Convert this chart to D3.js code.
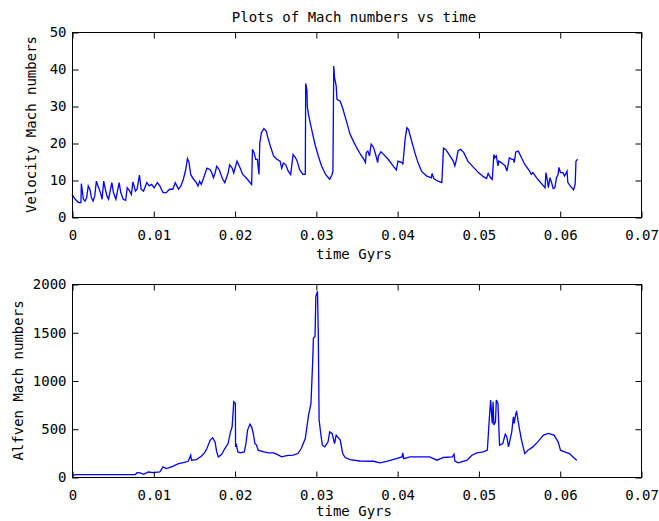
<!DOCTYPE html>
<html>
<head>
<meta charset="utf-8">
<script src="https://cdn.jsdelivr.net/npm/d3@7"></script>
<style>
  body { margin: 0; background: #fff; }
  svg { display: block; }
  text { font-family: "DejaVu Sans Mono", "Liberation Mono", monospace; font-size: 14px; fill: #000; }
</style>
</head>
<body>
<svg id="chart" width="659" height="521"></svg>
<script>
const titleText = "Plots of Mach numbers vs time";
const xLabel = "time Gyrs";
const topYLabel = "Velocity Mach numbers";
const botYLabel = "Alfven Mach numbers";
const xTicks = [0, 0.01, 0.02, 0.03, 0.04, 0.05, 0.06, 0.07];
const topYTicks = [0, 10, 20, 30, 40, 50];
const botYTicks = [0, 500, 1000, 1500, 2000];

// Velocity Mach number: [time Gyrs, value]
const velocityMach = [
[0.0000,6.1],[0.0004,4.8],[0.0008,3.9],[0.0011,3.9],[0.00115,9.0],[0.0014,4.8],[0.0016,4.3],[0.0018,5.2],
[0.0020,8.4],[0.0022,7.5],[0.0024,5.2],[0.0026,4.3],[0.0028,5.7],[0.0030,9.7],[0.0032,8.4],[0.0035,6.6],
[0.0037,4.8],[0.0039,9.7],[0.0041,7.5],[0.0043,5.7],[0.0045,4.8],[0.0049,9.3],[0.0051,6.6],[0.0054,4.8],
[0.0058,9.3],[0.0060,6.6],[0.0063,4.8],[0.0066,4.5],[0.0068,7.9],[0.0071,7.0],[0.0073,6.1],[0.0075,9.5],
[0.0078,7.0],[0.0080,7.5],[0.0083,11.3],[0.0085,7.5],[0.0088,7.0],[0.0092,9.3],[0.0095,8.4],[0.0098,8.8],
[0.0101,7.9],[0.0105,9.3],[0.0108,8.4],[0.0112,6.6],[0.0116,6.6],[0.0120,7.5],[0.0124,7.5],[0.0127,9.3],
[0.0131,7.5],[0.0134,8.4],[0.0137,10.2],[0.0140,12.9],[0.0142,15.8],[0.0144,14.7],[0.0146,11.5],[0.0149,10.4],
[0.0153,9.3],[0.0155,8.4],[0.0157,9.7],[0.0159,8.8],[0.0162,10.6],[0.0166,13.2],[0.0170,12.8],[0.0172,11.9],
[0.0174,10.6],[0.0176,11.9],[0.0178,13.7],[0.0181,12.8],[0.0185,10.4],[0.0188,9.3],[0.0192,11.9],[0.0194,14.1],
[0.0197,13.2],[0.0199,11.9],[0.0203,15.1],[0.0207,13.2],[0.0210,11.5],[0.0215,10.4],[0.0221,8.8],[0.0222,18.3],
[0.0224,17.4],[0.0226,15.6],[0.0228,15.6],[0.0230,11.5],[0.0231,20.0],[0.0233,22.8],[0.0236,23.9],[0.0239,23.2],
[0.0241,21.4],[0.0244,19.2],[0.0248,16.5],[0.0252,15.6],[0.0256,15.1],[0.0258,13.2],[0.0260,14.6],[0.0263,14.1],
[0.0266,12.4],[0.0269,11.5],[0.0272,16.9],[0.0275,16.0],[0.0277,15.1],[0.0280,12.8],[0.0284,11.5],[0.0287,11.5],
[0.02875,36.1],[0.0289,34.3],[0.02895,29.8],[0.0291,27.6],[0.0295,23.5],[0.0299,19.6],[0.0303,16.5],[0.0307,13.8],
[0.0312,11.5],[0.0317,10.2],[0.0320,11.5],[0.0321,12.4],[0.0322,40.8],[0.0323,37.7],[0.0325,35.4],[0.0326,31.8],
[0.0330,31.3],[0.0333,29.4],[0.0337,26.4],[0.0342,22.4],[0.0347,20.1],[0.0350,18.8],[0.0355,16.9],[0.0359,15.6],
[0.0361,14.7],[0.0362,17.4],[0.0364,17.8],[0.0366,16.5],[0.0368,19.7],[0.0371,18.8],[0.0374,16.5],[0.0376,14.7],
[0.0377,16.5],[0.0380,17.6],[0.0383,17.0],[0.0389,15.6],[0.0395,13.8],[0.0399,12.7],[0.0401,15.1],[0.0406,14.7],
[0.0407,14.2],[0.0410,21.4],[0.0412,24.1],[0.0414,23.6],[0.0418,20.4],[0.0422,17.2],[0.0426,14.5],[0.0430,12.4],
[0.0436,11.1],[0.0442,10.6],[0.0443,11.8],[0.0445,10.4],[0.0451,9.6],[0.0455,9.3],[0.0457,18.6],[0.0460,18.2],
[0.0465,16.5],[0.0469,15.1],[0.0471,13.8],[0.0473,15.6],[0.0475,17.9],[0.0478,18.3],[0.0482,17.4],[0.0487,15.1],
[0.0494,13.4],[0.0500,12.0],[0.0506,10.9],[0.0510,10.4],[0.0512,11.8],[0.0515,10.6],[0.0517,10.2],[0.0519,16.9],
[0.0520,16.0],[0.0522,16.5],[0.0524,13.8],[0.0525,15.1],[0.0528,14.7],[0.0533,13.8],[0.0535,12.4],[0.0537,14.7],
[0.0538,16.0],[0.0541,15.6],[0.0543,15.6],[0.0544,14.7],[0.0546,17.6],[0.0549,17.8],[0.0552,16.5],[0.0557,14.2],
[0.0563,12.4],[0.0565,11.5],[0.0567,12.0],[0.0573,10.2],[0.0580,8.4],[0.0582,7.9],[0.0583,12.0],[0.0585,9.7],
[0.0586,7.9],[0.0588,10.6],[0.0590,9.3],[0.0592,7.7],[0.0594,7.9],[0.0596,10.6],[0.0598,11.5],[0.0599,13.4],
[0.0601,12.0],[0.0604,12.0],[0.0606,11.1],[0.0609,12.4],[0.0610,9.3],[0.0613,8.4],[0.0617,7.3],[0.0619,8.8],
[0.0620,15.1],[0.0622,15.6]
];

// Alfven Mach number: [time Gyrs, value]
const alfvenMach = [
[0.0000,17],[0.0005,25],[0.0040,25],[0.0078,26],[0.0080,45],[0.0084,42],[0.0088,28],[0.0094,52],[0.0100,45],
[0.0108,52],[0.0112,104],[0.0116,87],[0.0124,111],[0.0131,139],[0.0137,150],[0.0143,163],[0.0146,226],
[0.0147,174],[0.0153,181],[0.0159,215],[0.0163,250],[0.0166,295],[0.0170,382],[0.0173,406],[0.0176,364],
[0.0178,260],[0.0180,208],[0.0184,233],[0.0188,295],[0.0192,347],[0.0195,468],[0.0197,520],[0.0199,780],
[0.0201,763],[0.02012,312],[0.0202,347],[0.0204,260],[0.0207,250],[0.0212,260],[0.0214,347],[0.0216,486],
[0.0219,548],[0.0221,520],[0.0223,451],[0.0225,347],[0.0227,330],[0.0229,278],[0.0236,260],[0.0242,250],
[0.0248,250],[0.0254,226],[0.0258,208],[0.0264,222],[0.0272,226],[0.0278,243],[0.0282,295],[0.0287,399],
[0.0291,642],[0.0294,763],[0.0296,1179],[0.0297,1439],[0.0299,1456],[0.0300,1872],[0.0302,1924],[0.0303,1474],
[0.0304,590],[0.0306,451],[0.0308,330],[0.0311,312],[0.0315,364],[0.0317,468],[0.0320,451],[0.0321,416],
[0.0323,347],[0.0325,434],[0.0330,382],[0.0333,243],[0.0336,202],[0.0342,181],[0.0354,166],[0.0371,163],
[0.0379,146],[0.0387,163],[0.0399,191],[0.0406,208],[0.0407,250],[0.0408,191],[0.0416,208],[0.0428,208],
[0.0440,208],[0.0449,174],[0.0457,202],[0.0468,208],[0.0470,236],[0.0471,166],[0.0475,146],[0.0479,156],
[0.0486,174],[0.0492,226],[0.0498,250],[0.0506,260],[0.0511,278],[0.0513,555],[0.0515,798],[0.0517,555],
[0.0518,780],[0.0519,538],[0.0521,572],[0.0522,798],[0.0524,763],[0.0526,330],[0.0530,347],[0.0533,444],
[0.0535,416],[0.0537,312],[0.0541,468],[0.0543,624],[0.0544,555],[0.0546,659],[0.0547,676],[0.0550,520],
[0.0553,382],[0.0557,243],[0.0561,278],[0.0567,312],[0.0573,364],[0.0580,434],[0.0586,451],[0.0593,434],
[0.0598,364],[0.0601,278],[0.0606,260],[0.0612,243],[0.0617,202],[0.0621,174]
];

const svg = d3.select("#chart");
const left = 72, right = 641;
const x = d3.scaleLinear().domain([0, 0.07]).range([left, right]);
const xFmt = d => d === 0 ? "0" : d.toFixed(2);
const yFmt = d3.format("d");

function panel(top, bottom, yMax, yTicks, data, yLabel, labelX, xLabelY) {
  const y = d3.scaleLinear().domain([0, yMax]).range([bottom, top]);
  const g = svg.append("g");

  const line = d3.line().x(d => x(d[0])).y(d => y(d[1]));
  g.append("path").datum(data)
    .attr("fill", "none").attr("stroke", "#0000ff").attr("stroke-width", 1.3)
    .attr("stroke-linejoin", "miter").attr("d", line);

  g.append("rect").attr("x", left + 0.5).attr("y", top + 0.5)
    .attr("width", right - left).attr("height", bottom - top)
    .attr("fill", "none").attr("stroke", "#000").attr("stroke-width", 1);

  const ax = g.append("g").attr("transform", `translate(0.5,${bottom + 0.5})`)
    .call(d3.axisBottom(x).tickValues(xTicks).tickFormat(xFmt).tickSize(-6).tickPadding(13));
  const axT = g.append("g").attr("transform", `translate(0.5,${top + 0.5})`)
    .call(d3.axisTop(x).tickValues(xTicks).tickFormat("").tickSize(-6));
  const ay = g.append("g").attr("transform", `translate(${left + 0.5},0.5)`)
    .call(d3.axisLeft(y).tickValues(yTicks).tickFormat(yFmt).tickSize(-6).tickPadding(6));
  const ayR = g.append("g").attr("transform", `translate(${right + 0.5},0.5)`)
    .call(d3.axisRight(y).tickValues(yTicks).tickFormat("").tickSize(-6));
  [ax, axT, ay, ayR].forEach(a => {
    a.select(".domain").remove();
    a.selectAll("line").attr("stroke", "#000");
    a.selectAll("text").attr("font-family", null).attr("font-size", null).attr("fill", "#000");
  });

  svg.append("text").attr("text-anchor", "middle")
    .attr("transform", `translate(${labelX},${(top + bottom) / 2}) rotate(-90)`)
    .text(yLabel);
  svg.append("text").attr("text-anchor", "middle")
    .attr("x", 354).attr("y", xLabelY).text(xLabel);
}

svg.append("text").attr("text-anchor", "middle").attr("x", 354).attr("y", 22).text(titleText);
panel(32, 217, 50, topYTicks, velocityMach, topYLabel, 36, 259);
panel(284, 477, 2000, botYTicks, alfvenMach, botYLabel, 23, 516);
</script>
</body>
</html>
